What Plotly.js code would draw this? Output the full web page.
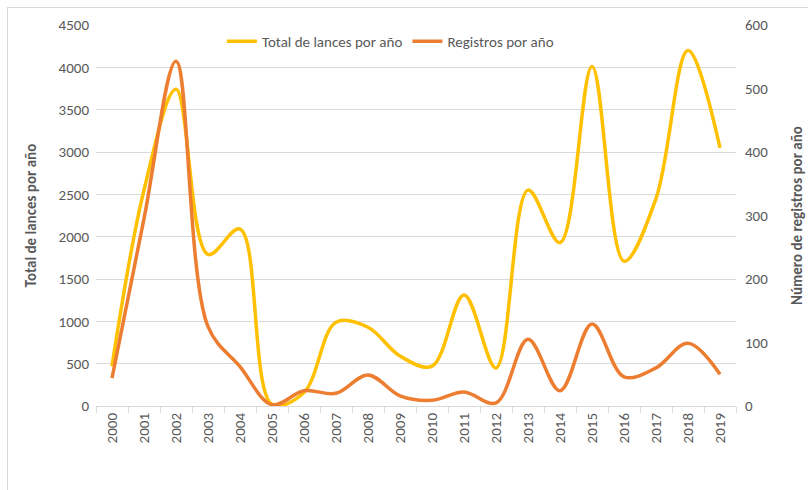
<!DOCTYPE html>
<html>
<head>
<meta charset="utf-8">
<script src="https://cdn.plot.ly/plotly-3.0.1.min.js"></script>
<style>
html,body{margin:0;padding:0;background:#fff;}
#frame{position:absolute;left:7px;top:7px;width:820px;height:500px;border:1px solid #d9d9d9;box-sizing:border-box;}
#chart{position:absolute;left:0;top:0;width:808px;height:490px;}
</style>
</head>
<body>
<div id="frame"></div>
<div id="chart"></div>
<script>
var years = ["2000","2001","2002","2003","2004","2005","2006","2007","2008","2009","2010","2011","2012","2013","2014","2015","2016","2017","2018","2019"];
var totalLances = [470, 2550, 3740, 1790, 2090, 20, 160, 990, 930, 590, 470, 1310, 450, 2550, 1930, 4010, 1710, 2450, 4200, 3050];
var registros = [44, 295, 543, 125, 62, 2, 24, 20, 49, 16, 9, 22, 5, 105, 24, 129, 46, 60, 99, 50];

var fontFam = "Carlito, 'Open Sans', 'Liberation Sans', sans-serif";
var data = [
  {x: years, y: totalLances, name: "Total de lances por año", type: "scatter", mode: "lines",
   line: {color: "#FFC000", width: 3.5, shape: "spline", smoothing: 1.0}, yaxis: "y"},
  {x: years, y: registros, name: "Registros por año", type: "scatter", mode: "lines",
   line: {color: "#ED7D31", width: 3.5, shape: "spline", smoothing: 1.0}, yaxis: "y2"}
];
var layout = {
  width: 808, height: 490,
  margin: {l: 96, r: 72, t: 25, b: 84},
  paper_bgcolor: "rgba(0,0,0,0)", plot_bgcolor: "rgba(0,0,0,0)",
  font: {family: fontFam, color: "#595959", size: 15},
  showlegend: true,
  legend: {orientation: "h", x: 0.46, xanchor: "center", y: 1.0, yanchor: "top",
    font: {size: 15, color: "#595959"}, bgcolor: "rgba(255,255,255,0)", itemwidth: 30, tracegroupgap: 0},
  xaxis: {type: "category", range: [-0.5, 19.5], tickangle: -90, tickfont: {size: 15, color: "#595959"},
    showgrid: false, showline: true, linecolor: "#d9d9d9", linewidth: 1,
    ticks: "outside", tickson: "boundaries", ticklen: 6, tickcolor: "#d9d9d9", zeroline: false},
  yaxis: {range: [0, 4500], dtick: 500, tickfont: {size: 15, color: "#595959"},
    gridcolor: "#d9d9d9", gridwidth: 1, zeroline: false, showline: false, ticks: "", ticklabelstandoff: 6,
    title: {text: "<b>Total de lances por año</b>", font: {size: 15, color: "#595959"}, standoff: 18}},
  yaxis2: {range: [0, 600], dtick: 100, overlaying: "y", side: "right",
    tickfont: {size: 15, color: "#595959"}, showgrid: false, zeroline: false, ticks: "", ticklabelstandoff: 8,
    title: {text: "<b>Número de registros por año</b>", font: {size: 15, color: "#595959"}, standoff: 24}}
};
Plotly.newPlot("chart", data, layout, {displayModeBar: false, staticPlot: true});
</script>
</body>
</html>
